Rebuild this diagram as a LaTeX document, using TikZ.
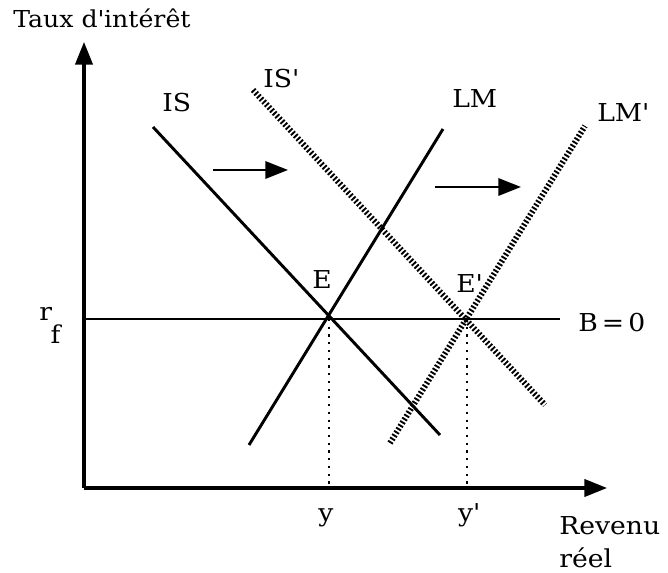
\documentclass[tikz,border=0pt]{standalone}
\usepackage{fontspec}
\setmainfont{DejaVu Serif}[FakeStretch=1.08]
\usetikzlibrary{arrows.meta}

\begin{document}
\begin{tikzpicture}[x=0.75pt,y=-0.75pt,>={Triangle[length=17pt,width=13pt]}]
			\tikzset{
				curve/.style={line width=2.2pt},
				shifted/.style={line width=4.4pt, dash pattern=on 1.4pt off 1.5pt},
				guide/.style={line width=1.8pt, dash pattern=on 1.6pt off 4.2pt},
				lbl/.style={anchor=base west, inner sep=0pt, font=\fontsize{18.5}{22}\selectfont},
			}
			\useasboundingbox (0,0) rectangle (668,573);

			\coordinate (O) at (84,488);
			\coordinate (ytop) at (84,42);
			\coordinate (xend) at (607,488);
			\draw [line width=2.3pt,->] (O) -- (ytop);
			\draw [line width=2.3pt,->] (O) -- (xend);
			\node (taux) [lbl, font=\fontsize{17.5}{21}\selectfont] at (13,28) {Taux d\textquotesingle intérêt};
			\node (revenu) [lbl] at (559,535) {Revenu};
			\node (reel) [lbl] at (559,567) {réel};

			\coordinate (rf) at (84,319);
			\coordinate (bend) at (560,319);
			\draw [line width=1.6pt] (rf) -- (bend);
			\node (bzero) [lbl] at (578,332) {B\,=\,0};
			\node (rflbl) [lbl] at (39,321) {r\kern-1pt\raisebox{-0.9em}{f}};

			\coordinate (is1) at (153,127);
			\coordinate (is2) at (440,435);
			\draw [curve] (is1) -- (is2);
			\node (islbl) [lbl] at (162,112) {IS};

			\coordinate (lm1) at (249,445);
			\coordinate (lm2) at (443,129);
			\draw [curve] (lm1) -- (lm2);
			\node (lmlbl) [lbl] at (452,108) {LM};

			\coordinate (isp1) at (253,90);
			\coordinate (isp2) at (545,405);
			\draw [shifted] (isp1) -- (isp2);
			\node (isplbl) [lbl] at (263,88) {IS\textquotesingle};

			\coordinate (lmp1) at (390,443);
			\coordinate (lmp2) at (585,126);
			\draw [shifted] (lmp1) -- (lmp2);
			\node (lmplbl) [lbl] at (597,122) {LM\textquotesingle};

			\coordinate (E) at (329,319);
			\coordinate (Ep) at (467,319);
			\coordinate (y) at (329,488);
			\coordinate (yp) at (467,488);
			\draw [guide] (E) -- (y);
			\draw [guide] (Ep) -- (yp);
			\node (elbl) [lbl] at (312,289) {E};
			\node (eplbl) [lbl] at (456,293) {E\textquotesingle};
			\node (ylbl) [lbl, anchor=base] at (326,522) {y};
			\node (yplbl) [lbl, anchor=base] at (469,522) {y\textquotesingle};

			\coordinate (s1) at (213,170);
			\coordinate (s2) at (288,170);
			\coordinate (s3) at (435,187);
			\coordinate (s4) at (521,187);
			\draw [line width=1.8pt,->] (s1) -- (s2);
			\draw [line width=1.8pt,->] (s3) -- (s4);
		\end{tikzpicture}
\end{document}
